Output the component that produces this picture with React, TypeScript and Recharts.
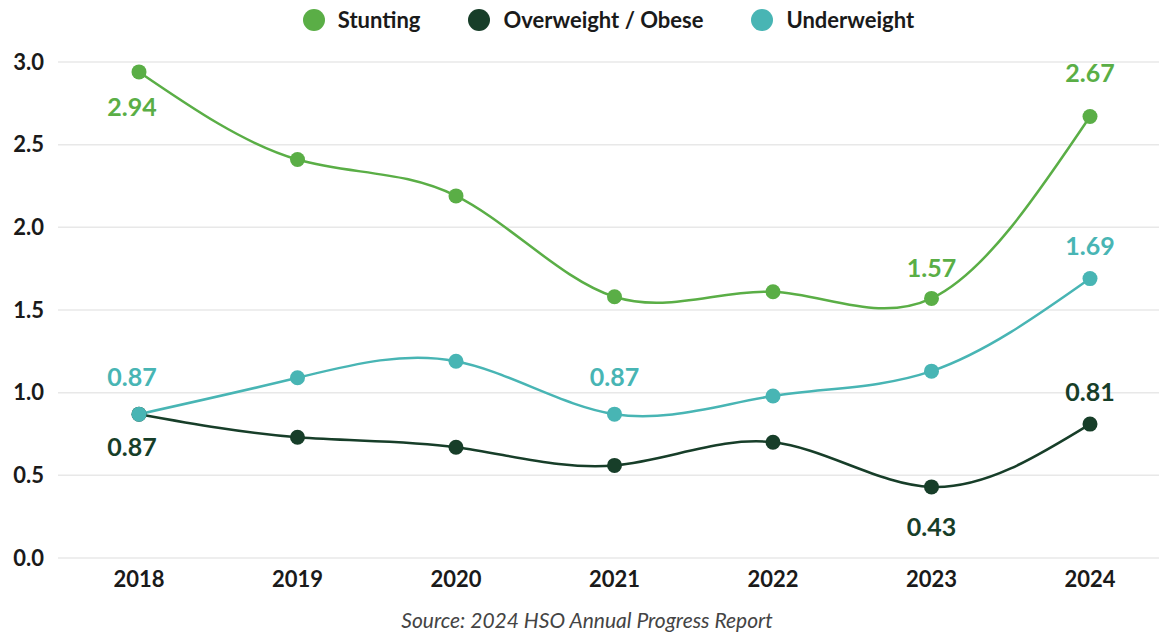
import React from 'react';
import { LineChart, Line, XAxis, YAxis, CartesianGrid, Legend, LabelList } from 'recharts';

const years = ['2018', '2019', '2020', '2021', '2022', '2023', '2024'];
const stunting = [2.94, 2.41, 2.19, 1.58, 1.61, 1.57, 2.67];
const overweight = [0.87, 0.73, 0.67, 0.56, 0.7, 0.43, 0.81];
const underweight = [0.87, 1.09, 1.19, 0.87, 0.98, 1.13, 1.69];
const yTicks = [0, 0.5, 1, 1.5, 2, 2.5, 3];

const data = years.map((year, i) => ({
  year,
  stunting: stunting[i],
  overweight: overweight[i],
  underweight: underweight[i],
}));

// which points carry a value label, and the vertical offset of that label
const labelOffset: Record<string, Record<number, number>> = {
  stunting: { 0: 34, 5: -31, 6: -45 },
  overweight: { 0: 32, 5: 39, 6: -33 },
  underweight: { 0: -38, 3: -38, 6: -34 },
};

const COLORS = {
  stunting: '#5aae46',
  overweight: '#173e29',
  underweight: '#48b5b4',
};

const FONT = 'Lato, "Open Sans", sans-serif';

function makeLabel(key: keyof typeof COLORS) {
  return (props: any) => {
    const { x, y, value, index } = props;
    const dy = labelOffset[key][index];
    if (dy === undefined) return null;
    return (
      <text
        x={x + (index === 0 ? -7 : 0)}
        y={y + dy}
        textAnchor="middle"
        dominantBaseline="central"
        fill={COLORS[key]}
        fontSize={25}
        fontWeight={700}
        fontFamily={FONT}
      >
        {Number(value).toFixed(2)}
      </text>
    );
  };
}

const legendItems = [
  { label: 'Stunting', color: COLORS.stunting },
  { label: 'Overweight / Obese', color: COLORS.overweight },
  { label: 'Underweight', color: COLORS.underweight },
];

function LegendContent() {
  return (
    <div style={{ display: 'flex', justifyContent: 'center', gap: 48, fontFamily: FONT }}>
      {legendItems.map((it) => (
        <div key={it.label} style={{ display: 'flex', alignItems: 'center' }}>
          <span
            style={{
              width: 22,
              height: 22,
              borderRadius: '50%',
              background: it.color,
              display: 'inline-block',
              marginRight: 13,
            }}
          />
          <span style={{ fontSize: 22, fontWeight: 700, color: '#1a1a1a' }}>{it.label}</span>
        </div>
      ))}
    </div>
  );
}

export default function App() {
  return (
    <div style={{ position: 'absolute', left: 0, top: 0, width: 1159, height: 634, background: '#fff' }}>
      <LineChart
        width={1159}
        height={600}
        data={data}
        margin={{ top: 22, right: 0, left: 0, bottom: 2 }}
      >
        <Legend
          verticalAlign="top"
          content={<LegendContent />}
          wrapperStyle={{ top: 6, left: 29, width: 1159, height: 40 }}
        />
        <CartesianGrid vertical={false} stroke="#e8e8e8" strokeWidth={1.5} />
        <XAxis
          dataKey="year"
          padding={{ left: 81, right: 69 }}
          axisLine={false}
          tickLine={false}
          tickSize={0}
          tickMargin={13}
          height={40}
          tick={{ fontSize: 22, fontWeight: 700, fill: '#1a1a1a', fontFamily: FONT }}
        />
        <YAxis
          domain={[0, 3]}
          ticks={yTicks}
          tickFormatter={(v) => Number(v).toFixed(1)}
          axisLine={false}
          tickLine={false}
          tickSize={0}
          tickMargin={14}
          width={58}
          tick={{ fontSize: 22, fontWeight: 700, fill: '#1a1a1a', fontFamily: FONT }}
        />
        <Line
          type="natural"
          dataKey="stunting"
          stroke={COLORS.stunting}
          strokeWidth={2.5}
          dot={{ r: 7.5, fill: COLORS.stunting, stroke: 'none' }}
          activeDot={false}
          isAnimationActive={false}
        >
          <LabelList dataKey="stunting" content={makeLabel('stunting')} />
        </Line>
        <Line
          type="natural"
          dataKey="overweight"
          stroke={COLORS.overweight}
          strokeWidth={2.5}
          dot={{ r: 7.5, fill: COLORS.overweight, stroke: 'none' }}
          activeDot={false}
          isAnimationActive={false}
        >
          <LabelList dataKey="overweight" content={makeLabel('overweight')} />
        </Line>
        <Line
          type="natural"
          dataKey="underweight"
          stroke={COLORS.underweight}
          strokeWidth={2.5}
          dot={{ r: 7.5, fill: COLORS.underweight, stroke: 'none' }}
          activeDot={false}
          isAnimationActive={false}
        >
          <LabelList dataKey="underweight" content={makeLabel('underweight')} />
        </Line>
      </LineChart>
      <div
        style={{
          position: 'absolute',
          top: 607,
          left: 0,
          width: 1174,
          textAlign: 'center',
          fontFamily: FONT,
          fontStyle: 'italic',
          fontSize: 21,
          color: '#444',
        }}
      >
        Source: 2024 HSO Annual Progress Report
      </div>
    </div>
  );
}
